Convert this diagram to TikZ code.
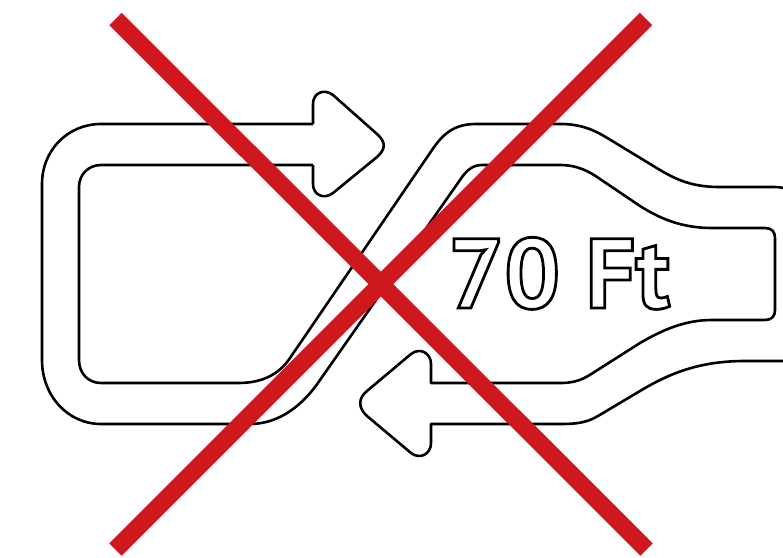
\documentclass[tikz,border=0pt]{standalone}
\usepackage{fontspec}
\newfontfamily\labelfont{PT Sans}
\definecolor{crossred}{HTML}{CE181E}
\tikzset{ribbon/.style={draw=black,line width=2.6pt,line join=round,fill=none},
 crossbar/.style={draw=crossred,line width=17.5pt}}
\begin{document}
\begin{tikzpicture}[x=1pt,y=-1pt]
\useasboundingbox (0,0) rectangle (783,557);
\draw[ribbon] (313,124) -- (101,124) .. controls (68,124) and (42,150) .. (42,184)
 -- (42,360) .. controls (42,396) and (68,424) .. (101,424) -- (250,424)
 .. controls (280,424) and (304,404) .. (320,380) -- (460,180)
 .. controls (466,171) and (472,165) .. (482,165) -- (560,165)
 .. controls (578,165) and (590,172) .. (600,179) -- (640,206)
 .. controls (662,220) and (684,228) .. (712,228) -- (765,228)
 .. controls (772,228) and (775,232) .. (775,238) -- (775,310)
 .. controls (775,316) and (772,320) .. (765,320) -- (712,320)
 .. controls (686,320) and (664,329) .. (640,343) -- (596,371)
 .. controls (584,379) and (576,383) .. (560,383) -- (431,383) -- (431,364)
 .. controls (431,353) and (420,347) .. (411,354) -- (367,391)
 .. controls (358,398) and (358,408) .. (367,416) -- (411,453)
 .. controls (420,460) and (431,454) .. (431,443) -- (431,424) -- (560,424)
 .. controls (576,424) and (586,423) .. (598,416) -- (640,391)
 .. controls (670,373) and (700,361) .. (745,361) -- (783,361);
\draw[ribbon] (313,165) -- (101,165) .. controls (88,165) and (79,175) .. (79,187)
 -- (79,360) .. controls (79,373) and (88,383) .. (101,383) -- (238,383)
 .. controls (260,383) and (278,376) .. (290,358) -- (432,150)
 .. controls (444,132) and (456,124) .. (476,124) -- (560,124)
 .. controls (578,124) and (590,128) .. (604,136) -- (660,170)
 .. controls (680,182) and (696,187) .. (720,187) -- (770,187)
 .. controls (776,187) and (780,187) .. (783,188);
\draw[ribbon] (313,124) -- (313,104) .. controls (313,93) and (324,88) .. (333,95)
 -- (377,134) .. controls (386,142) and (386,149) .. (377,157)
 -- (333,193) .. controls (324,200) and (313,195) .. (313,184) -- (313,165);
\node[anchor=base west,inner sep=0pt,outer sep=0pt] (distance) at (448,308)
 {\labelfont\bfseries\fontsize{99}{99}\selectfont\special{pdf:code q 1 Tr 2.8 w}70 Ft\special{pdf:code Q}};
\coordinate (nw) at (115.5,19);
\coordinate (se) at (646.5,549.5);
\coordinate (ne) at (646,19);
\coordinate (sw) at (115.5,549.5);
\draw[crossbar] (nw) -- (se);
\draw[crossbar] (ne) -- (sw);
\end{tikzpicture}
\end{document}
